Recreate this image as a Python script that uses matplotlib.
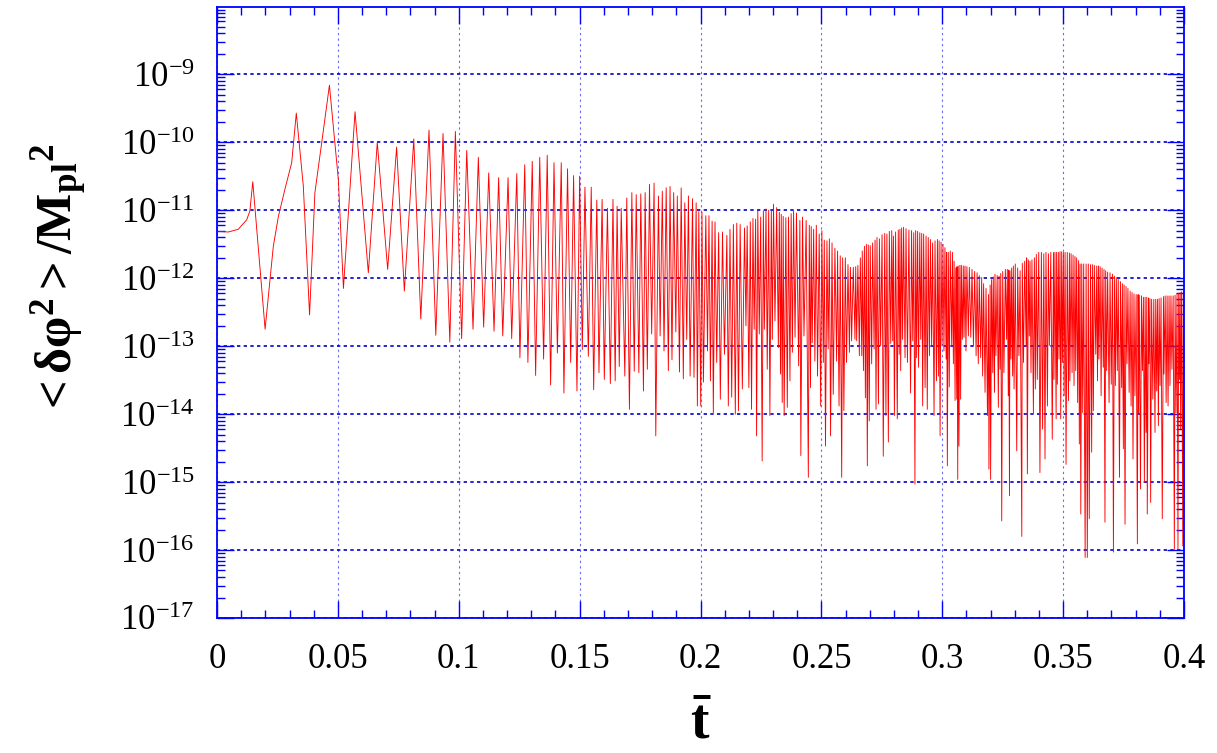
# Fluctuation growth <dphi^2>/Mpl^2 versus rescaled time, log scale.
import numpy as np
import matplotlib.pyplot as plt
from matplotlib import ticker

# Values: (t_bar, log10 of <dphi^2>/Mpl^2) at the turning points.
# Early, slowly oscillating part.
sparse = [
    (0.0003, -11.31), (0.0047, -11.32), (0.0088, -11.28), (0.0123, -11.14), (0.0136, -11.01), (0.0148, -10.58),
    (0.0199, -12.75), (0.0233, -11.53), (0.0254, -11.09), (0.0281, -10.69), (0.0309, -10.30), (0.0328, -9.57),
    (0.0357, -10.64), (0.0383, -12.54), (0.0405, -10.74), (0.0433, -10.01), (0.0465, -9.16),
    (0.0502, -10.55), (0.0523, -12.15), (0.0571, -9.55),
    (0.0626, -11.92), (0.0663, -10.00), (0.0706, -11.87), (0.0743, -10.07), (0.0775, -12.19),
    (0.0814, -9.95), (0.0843, -12.60), (0.0877, -9.82), (0.0905, -12.84), (0.0935, -9.87),
    (0.0963, -12.94), (0.0986, -9.84), (0.1012, -12.89), (0.1033, -10.12), (0.1059, -12.75),
    (0.1081, -10.22), (0.1103, -12.72), (0.1124, -10.45), (0.1146, -12.78), (0.1165, -10.52),
    (0.1182, -12.85), (0.1204, -10.52), (0.1219, -12.89), (0.1240, -10.46), (0.1253, -13.17),
    (0.1273, -10.33), (0.1286, -13.24), (0.1304, -10.28), (0.1318, -13.43), (0.1335, -10.22),
    (0.1351, -13.19), (0.1366, -10.19), (0.1380, -13.57), (0.1394, -10.30), (0.1408, -13.10),
    (0.1424, -10.30), (0.1435, -13.69), (0.1450, -10.39), (0.1463, -13.24), (0.1475, -10.49),
    (0.1489, -13.66), (0.1500, -10.50), (0.1511, -13.05), (0.1522, -10.66), (0.1536, -13.15),
    (0.1548, -10.66), (0.1558, -13.64), (0.1571, -10.85), (0.1580, -13.39), (0.1593, -10.84),
    (0.1602, -13.49), (0.1615, -10.97), (0.1627, -13.55), (0.1638, -10.84), (0.1647, -13.51),
    (0.1655, -10.94), (0.1664, -13.30), (0.1672, -10.97), (0.1687, -13.44), (0.1695, -10.82),
    (0.1706, -13.93), (0.1716, -10.74), (0.1726, -13.37), (0.1734, -10.77), (0.1745, -13.39),
]

# 0.175 - 0.22
dense_a = [
    (0.1753, -10.76), (0.1764, -13.66), (0.1771, -10.74), (0.1780, -13.34), (0.1789, -10.62),
    (0.1798, -12.82), (0.1808, -10.60), (0.1815, -14.32), (0.1826, -10.79), (0.1833, -12.85),
    (0.1842, -10.72), (0.1849, -13.07), (0.1858, -10.67), (0.1867, -13.36), (0.1874, -10.65),
    (0.1882, -13.20), (0.1889, -10.74), (0.1898, -12.79), (0.1904, -10.79), (0.1913, -13.38),
    (0.1920, -10.67), (0.1929, -13.48), (0.1935, -10.89), (0.1943, -12.90), (0.1950, -10.79),
    (0.1957, -13.44), (0.1967, -10.83), (0.1973, -13.46), (0.1982, -10.89), (0.1987, -13.88),
    (0.1993, -11.02), (0.2001, -13.88), (0.2006, -11.03), (0.2012, -13.53), (0.2022, -11.08),
    (0.2029, -13.07), (0.2035, -11.08), (0.2041, -13.51), (0.2048, -11.16), (0.2053, -13.98),
    (0.2060, -11.17), (0.2067, -13.24), (0.2075, -11.33), (0.2082, -13.78), (0.2091, -11.32),
    (0.2099, -13.12), (0.2109, -11.37), (0.2115, -13.88), (0.2122, -11.28), (0.2129, -13.75),
    (0.2136, -11.21), (0.2144, -14.00), (0.2150, -11.19), (0.2157, -13.95), (0.2164, -11.21),
    (0.2173, -13.63), (0.2182, -11.26),
]

# 0.22 - 0.26
dense_b = [
    (0.2188, -12.70), (0.2193, -11.23), (0.2200, -13.61), (0.2206, -11.17), (0.2211, -13.93),
    (0.2217, -11.12), (0.2222, -12.75), (0.2228, -11.13), (0.2232, -14.32), (0.2237, -11.01),
    (0.2243, -12.82), (0.2249, -11.10), (0.2255, -14.69), (0.2260, -11.01), (0.2264, -12.75),
    (0.2271, -10.98), (0.2276, -13.34), (0.2282, -11.00), (0.2287, -14.02), (0.2293, -11.01),
    (0.2297, -12.90), (0.2302, -10.91), (0.2308, -12.63), (0.2315, -10.96), (0.2322, -13.02),
    (0.2326, -11.03), (0.2331, -13.41), (0.2334, -11.06), (0.2338, -13.83), (0.2342, -11.09),
    (0.2346, -14.02), (0.2353, -11.11), (0.2359, -13.90), (0.2364, -11.10), (0.2370, -13.51),
    (0.2375, -11.05), (0.2380, -13.09), (0.2385, -11.01), (0.2391, -12.87), (0.2397, -11.04),
    (0.2406, -13.29), (0.2411, -11.15), (0.2415, -14.61), (0.2422, -11.10), (0.2428, -12.85),
    (0.2437, -11.15), (0.2446, -14.93), (0.2450, -11.22), (0.2455, -13.61), (0.2458, -11.24),
    (0.2462, -12.95), (0.2468, -11.28), (0.2473, -13.22), (0.2479, -11.22), (0.2484, -13.44),
    (0.2491, -11.35), (0.2497, -13.88), (0.2502, -11.30), (0.2508, -13.24), (0.2512, -11.44),
    (0.2517, -14.47), (0.2523, -11.45), (0.2528, -13.04), (0.2533, -11.42), (0.2538, -14.32),
    (0.2544, -11.48), (0.2549, -13.71), (0.2556, -11.56), (0.2563, -13.22), (0.2567, -11.60),
    (0.2573, -13.88), (0.2578, -11.67), (0.2584, -14.93), (0.2588, -11.70), (0.2593, -13.95),
    (0.2599, -11.70), (0.2604, -13.24), (0.2610, -11.80),
]

# 0.26 - 0.30
dense_c = [
    (0.2616, -13.09), (0.2620, -11.84), (0.2625, -12.92), (0.2632, -11.84), (0.2639, -12.90),
    (0.2642, -11.83), (0.2646, -12.92), (0.2651, -11.81), (0.2657, -13.14), (0.2661, -11.70),
    (0.2667, -13.14), (0.2669, -11.60), (0.2674, -13.36), (0.2678, -11.53), (0.2682, -13.76),
    (0.2686, -11.50), (0.2690, -14.76), (0.2694, -11.51), (0.2698, -14.10), (0.2702, -11.52),
    (0.2708, -13.26), (0.2712, -11.48), (0.2718, -13.04), (0.2722, -11.44), (0.2726, -13.93),
    (0.2730, -11.40), (0.2736, -13.85), (0.2740, -11.42), (0.2745, -12.99), (0.2751, -11.36),
    (0.2756, -14.62), (0.2762, -11.34), (0.2767, -14.02), (0.2771, -11.35), (0.2777, -14.41),
    (0.2781, -11.31), (0.2787, -12.96), (0.2791, -11.30), (0.2795, -12.92), (0.2798, -11.38),
    (0.2802, -14.02), (0.2807, -11.32), (0.2814, -14.07), (0.2818, -11.29), (0.2822, -13.12),
    (0.2825, -11.28), (0.2828, -13.36), (0.2832, -11.26), (0.2836, -12.90), (0.2840, -11.25),
    (0.2846, -13.17), (0.2850, -11.27), (0.2856, -13.24), (0.2862, -11.29), (0.2869, -13.69),
    (0.2873, -11.30), (0.2878, -12.92), (0.2882, -11.33), (0.2887, -15.03), (0.2890, -11.30),
    (0.2894, -13.17), (0.2898, -11.31), (0.2902, -13.31), (0.2907, -11.33), (0.2911, -12.90),
    (0.2915, -11.34), (0.2919, -13.88), (0.2923, -11.35), (0.2929, -13.61), (0.2933, -11.38),
    (0.2938, -13.93), (0.2942, -11.40), (0.2947, -13.14), (0.2951, -11.43), (0.2956, -12.99),
    (0.2960, -11.48), (0.2966, -14.02), (0.2970, -11.45), (0.2976, -13.51), (0.2980, -11.43),
    (0.2984, -13.44), (0.2987, -11.45), (0.2991, -14.32), (0.2995, -11.47), (0.2999, -12.99),
    (0.3003, -11.50), (0.3007, -13.07), (0.3011, -11.55), (0.3016, -13.19), (0.3018, -11.62),
    (0.3021, -14.76), (0.3025, -11.62),
]

# 0.30 - 0.345
dense_d = [
    (0.3029, -13.60), (0.3033, -11.60), (0.3039, -12.99), (0.3042, -11.62), (0.3046, -13.26),
    (0.3049, -11.75), (0.3053, -13.80), (0.3056, -11.85), (0.3060, -13.78), (0.3061, -11.83),
    (0.3064, -14.96), (0.3066, -11.82), (0.3069, -14.47), (0.3073, -11.81), (0.3076, -13.78),
    (0.3079, -11.81), (0.3083, -12.90), (0.3087, -11.82), (0.3090, -12.87), (0.3094, -11.82),
    (0.3098, -13.07), (0.3102, -11.83), (0.3108, -12.85), (0.3112, -11.84), (0.3118, -12.87),
    (0.3123, -11.87), (0.3129, -12.99), (0.3134, -11.90), (0.3140, -13.14), (0.3144, -11.92),
    (0.3149, -13.26), (0.3153, -11.96), (0.3159, -13.17), (0.3163, -11.99), (0.3167, -13.44),
    (0.3171, -12.08), (0.3177, -13.68), (0.3181, -12.15), (0.3187, -14.02), (0.3191, -12.24),
    (0.3193, -14.81), (0.3198, -12.10), (0.3200, -14.96), (0.3204, -12.02), (0.3209, -13.39),
    (0.3211, -11.98), (0.3216, -13.68), (0.3218, -11.94), (0.3222, -13.14), (0.3227, -11.96),
    (0.3232, -13.90), (0.3235, -11.97), (0.3239, -13.34), (0.3242, -11.93), (0.3246, -15.57),
    (0.3250, -11.90), (0.3255, -13.39), (0.3261, -11.87), (0.3266, -12.90), (0.3269, -11.87),
    (0.3273, -13.73), (0.3275, -11.88), (0.3278, -15.20), (0.3280, -11.89), (0.3284, -13.19),
    (0.3287, -11.85), (0.3291, -13.44), (0.3294, -11.82), (0.3297, -13.63), (0.3302, -11.79),
    (0.3308, -14.54), (0.3312, -11.85), (0.3317, -13.14), (0.3322, -11.89), (0.3329, -15.80),
    (0.3331, -11.78), (0.3336, -13.24), (0.3341, -11.75), (0.3347, -12.99), (0.3349, -11.70),
    (0.3352, -14.88), (0.3356, -11.73), (0.3360, -12.85), (0.3363, -11.75), (0.3367, -13.39),
    (0.3371, -11.73), (0.3377, -13.98), (0.3381, -11.70), (0.3385, -13.63), (0.3389, -11.65),
    (0.3393, -13.49), (0.3399, -11.62), (0.3404, -14.86), (0.3410, -11.62), (0.3415, -14.22),
    (0.3420, -11.64), (0.3425, -14.66), (0.3429, -11.62), (0.3435, -13.88), (0.3439, -11.64),
    (0.3443, -12.99),
]

# 0.345 - 0.40
dense_e = [
    (0.3449, -11.62), (0.3455, -14.37), (0.3460, -11.62), (0.3462, -13.49), (0.3466, -11.62),
    (0.3471, -14.07), (0.3473, -11.62), (0.3476, -13.56), (0.3480, -11.62), (0.3483, -13.19),
    (0.3487, -11.61), (0.3490, -14.07), (0.3494, -11.61), (0.3497, -13.24), (0.3501, -11.62),
    (0.3504, -13.73), (0.3508, -11.62), (0.3512, -14.74), (0.3517, -11.62), (0.3522, -13.80),
    (0.3526, -11.63), (0.3528, -13.51), (0.3533, -11.64), (0.3537, -13.39), (0.3541, -11.66),
    (0.3545, -13.58), (0.3549, -11.68), (0.3552, -13.36), (0.3556, -11.70), (0.3560, -13.83),
    (0.3564, -11.74), (0.3567, -14.44), (0.3570, -11.79), (0.3573, -15.47), (0.3577, -11.79),
    (0.3581, -13.98), (0.3585, -11.79), (0.3591, -16.11), (0.3595, -11.79), (0.3600, -16.11),
    (0.3604, -11.79), (0.3608, -15.54), (0.3613, -11.80), (0.3618, -14.56), (0.3621, -11.80),
    (0.3625, -13.95), (0.3629, -11.81), (0.3635, -13.12), (0.3639, -11.82), (0.3642, -13.51),
    (0.3646, -11.82), (0.3648, -13.19), (0.3653, -11.83), (0.3657, -13.73), (0.3661, -11.85),
    (0.3666, -13.31), (0.3669, -11.87), (0.3673, -15.59), (0.3676, -11.89), (0.3680, -13.36),
    (0.3684, -11.91), (0.3690, -13.83), (0.3694, -11.92), (0.3699, -13.56), (0.3704, -11.94),
    (0.3708, -16.03), (0.3712, -11.97), (0.3716, -13.58), (0.3720, -11.99), (0.3724, -13.36),
    (0.3728, -12.02), (0.3733, -14.93), (0.3737, -12.05), (0.3742, -13.61), (0.3745, -12.08),
    (0.3749, -14.51), (0.3752, -12.10), (0.3756, -15.62), (0.3760, -12.12), (0.3764, -13.26),
    (0.3768, -12.15), (0.3773, -13.68), (0.3777, -12.19), (0.3781, -13.88), (0.3785, -12.21),
    (0.3789, -14.66), (0.3793, -12.23), (0.3797, -13.73), (0.3802, -12.24), (0.3807, -15.91),
    (0.3810, -12.24), (0.3812, -13.98), (0.3815, -12.25), (0.3820, -15.10), (0.3824, -12.26),
    (0.3828, -13.36), (0.3832, -12.28), (0.3836, -15.00), (0.3839, -12.28), (0.3843, -14.27),
    (0.3846, -12.28), (0.3848, -15.47), (0.3853, -12.29), (0.3855, -13.26), (0.3859, -12.30),
    (0.3862, -15.30), (0.3866, -12.31), (0.3871, -13.78), (0.3875, -12.31), (0.3880, -14.27),
    (0.3883, -12.31), (0.3887, -13.66), (0.3890, -12.31), (0.3894, -14.17), (0.3897, -12.30),
    (0.3901, -13.58), (0.3905, -12.29), (0.3910, -15.54), (0.3915, -12.27), (0.3917, -13.41),
    (0.3922, -12.26), (0.3926, -13.83), (0.3930, -12.26), (0.3934, -13.88), (0.3938, -12.26),
    (0.3942, -13.58), (0.3946, -12.26), (0.3950, -13.34), (0.3955, -12.26), (0.3960, -15.99),
    (0.3963, -12.25), (0.3967, -13.98), (0.3971, -12.23), (0.3975, -15.99), (0.3978, -12.22),
    (0.3981, -13.49), (0.3984, -12.21), (0.3986, -14.22), (0.3990, -12.20), (0.3995, -15.94),
    (0.3997, -12.20), (0.4003, -17.50),
]

# Labelled decades on the y axis
y_decades = [1e-17, 1e-16, 1e-15, 1e-14, 1e-13, 1e-12, 1e-11, 1e-10, 1e-9]

# Fonts: Times-like serif for everything, including the math text.
plt.rcParams['font.family'] = ['Liberation Serif', 'DejaVu Serif']
plt.rcParams['mathtext.fontset'] = 'custom'
plt.rcParams['mathtext.rm'] = 'Liberation Serif'
plt.rcParams['mathtext.it'] = 'Liberation Serif:italic'
plt.rcParams['mathtext.bf'] = 'Liberation Serif:bold'
plt.rcParams['axes.unicode_minus'] = False

pts = np.array(sparse + dense_a + dense_b + dense_c + dense_d + dense_e)
t = pts[:, 0]
val = 10.0 ** pts[:, 1]

fig = plt.figure(figsize=(12.17, 7.53), dpi=100)
ax = fig.add_axes([0.1783, 0.1793, 0.7946, 0.8114])

ax.plot(t, val, color='#ff0000', lw=0.65)

ax.set_yscale('log')
ax.set_xlim(0, 0.4)
ax.set_ylim(1e-17, 9.8e-9)

# Ticks inside on all four sides, blue like the frame.
ax.xaxis.set_major_locator(ticker.MultipleLocator(0.05))
ax.xaxis.set_minor_locator(ticker.MultipleLocator(0.01))
ax.xaxis.set_major_formatter(ticker.FuncFormatter(lambda v, p: '%g' % v))
ax.yaxis.set_major_locator(ticker.FixedLocator(y_decades))
ax.yaxis.set_major_formatter(ticker.LogFormatterSciNotation())
ax.yaxis.set_minor_locator(ticker.LogLocator(base=10, subs=np.arange(2, 10), numticks=20))
ax.yaxis.set_minor_formatter(ticker.NullFormatter())

ax.tick_params(which='both', direction='in', top=True, right=True, color='#0000ff')
ax.tick_params(which='major', length=12, width=1.0, labelsize=25)
ax.tick_params(which='minor', length=6, width=1.0)
ax.tick_params(axis='x', which='major', pad=18)
ax.tick_params(axis='y', which='major', pad=16)

for s in ax.spines.values():
    s.set_color('#0000ff')
    s.set_linewidth(1.3)

# Dotted blue grid.
ax.grid(True, which='major', axis='y', color='#0000cc', ls=(0, (2, 2)), lw=1.2)
ax.grid(True, which='major', axis='x', color='#6a6aee', ls=(0, (2, 3)), lw=0.8)

ax.set_ylabel(r'$\mathbf{<\delta\varphi^{2}>/M_{pl}{}^{2}}$', fontsize=36)
ax.yaxis.set_label_coords(-0.131, 0.553)
ax.set_xlabel(r'$\mathbf{\bar{t}}$', fontsize=40)
ax.xaxis.set_label_coords(0.5, -0.132)

fig.savefig('out.png', dpi=100)
